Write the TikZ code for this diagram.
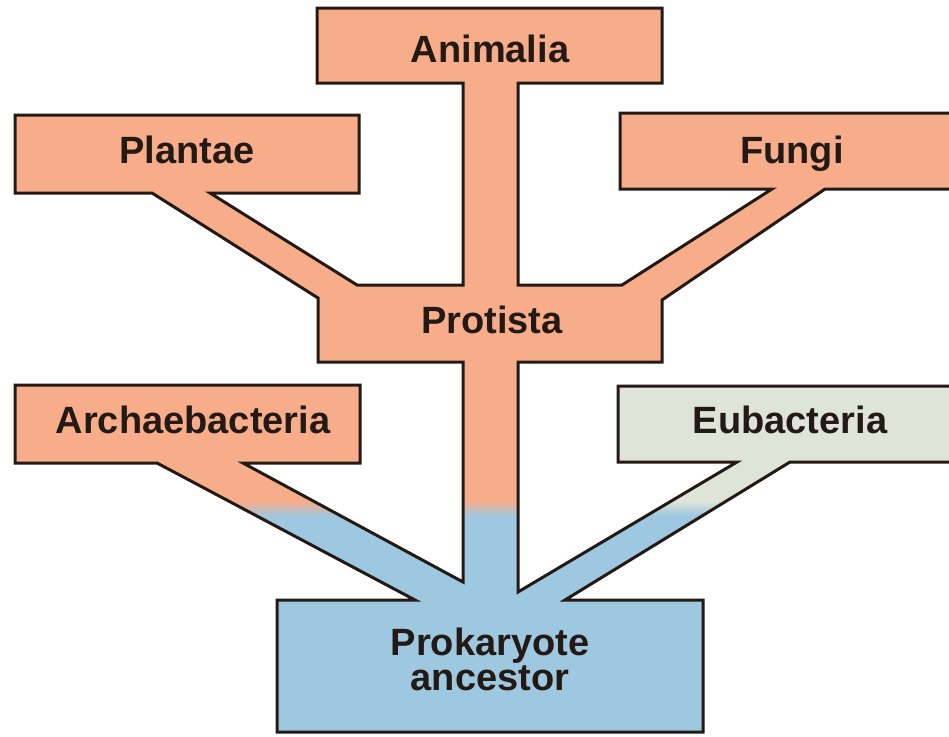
\documentclass[tikz,border=0pt]{standalone}
\usepackage{fontspec}
\setmainfont{Liberation Sans}
\usetikzlibrary{positioning}
\definecolor{treesalmon}{RGB}{248,173,138}
\definecolor{treeblue}{RGB}{158,199,224}
\definecolor{treegray}{RGB}{222,228,215}
\definecolor{treeink}{RGB}{35,26,22}
\newcommand{\treeoutline}{(317,8) -- (662,8) -- (662,83) -- (518,83) -- (518,285) -- (622,285) -- (772,189) -- (620,189) -- (620,113) -- (964,113) -- (964,189) -- (825,189) -- (662,300) -- (662,362) -- (518,362) -- (518,592) -- (737,462) -- (618,462) -- (618,386) -- (964,386) -- (964,462) -- (790,462) -- (565,600) -- (703,600) -- (703,732) -- (277,732) -- (277,600) -- (415,600) -- (157,463) -- (15,463) -- (15,385) -- (360,385) -- (360,463) -- (243,463) -- (463,582) -- (463,362) -- (318,362) -- (318,298) -- (152,193) -- (15,193) -- (15,115) -- (359,115) -- (359,193) -- (210,193) -- (357,285) -- (463,285) -- (463,83) -- (317,83) -- cycle}
\tikzset{kingdom/.style={font=\fontsize{38}{35}\selectfont\bfseries, text=treeink, anchor=base, inner sep=0pt}}

\begin{document}
\begin{tikzpicture}[x=1pt, y=-1pt]
\useasboundingbox (0,0) rectangle (949,736);
\clip (0,0) rectangle (949,736);
\begin{scope}
\clip \treeoutline;
\fill[treesalmon] (0,0) rectangle (964,736);
\fill[treegray] (520,370) rectangle (964,505);
\shade[top color=treesalmon, bottom color=treeblue] (0,501) rectangle (520,516);
\shade[top color=treegray, bottom color=treeblue] (520,501) rectangle (964,516);
\fill[treeblue] (0,516) rectangle (964,736);
\end{scope}
\draw[treeink, line width=3pt, line join=miter] \treeoutline;
\node[kingdom] (animalia) at (490,62) {Animalia};
\node[kingdom] (plantae) at (187,163) {Plantae};
\node[kingdom] (fungi) at (792,163) {Fungi};
\node[kingdom] (protista) at (492,333) {Protista};
\node[kingdom] (archaea) at (193,433) {Archaebacteria};
\node[kingdom] (eubacteria) at (790,433) {Eubacteria};
\node[kingdom, anchor=center, align=center] (ancestor) at (490,659) {Prokaryote\\ancestor};
\end{tikzpicture}
\end{document}
